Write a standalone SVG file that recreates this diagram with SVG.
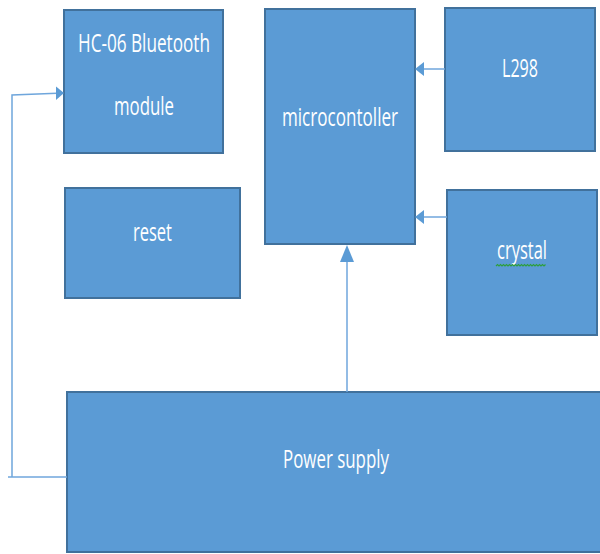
<svg xmlns="http://www.w3.org/2000/svg" width="600" height="554" viewBox="0 0 600 554">
<style>
.box{fill:#5B9BD5;stroke:#41719C;stroke-width:2}
.lbl{font-family:"Open Sans","Liberation Sans",sans-serif;font-size:26px;fill:#FFFFFF}
.con{fill:none;stroke:#6FA6DC;stroke-width:1.5}
.ah{fill:#5B9BD5}
</style>
<rect width="600" height="554" fill="#FFFFFF"/>
<g id="hc06">
<rect class="box" x="64" y="10" width="159" height="143"/>
<text class="lbl" x="78" y="52" textLength="132" lengthAdjust="spacingAndGlyphs">HC-06 Bluetooth</text>
<text class="lbl" x="114" y="115" textLength="60" lengthAdjust="spacingAndGlyphs">module</text>
</g>
<g id="microcontroller">
<rect class="box" x="265" y="9" width="150" height="235"/>
<text class="lbl" x="282" y="126" textLength="116" lengthAdjust="spacingAndGlyphs">microcontoller</text>
</g>
<g id="l298">
<rect class="box" x="445" y="8" width="150" height="143"/>
<text class="lbl" x="502" y="77" textLength="36" lengthAdjust="spacingAndGlyphs">L298</text>
</g>
<g id="reset">
<rect class="box" x="65" y="188" width="175" height="110"/>
<text class="lbl" x="133" y="241" textLength="39" lengthAdjust="spacingAndGlyphs">reset</text>
</g>
<g id="crystal">
<rect class="box" x="447" y="190" width="150" height="145"/>
<text class="lbl" x="497" y="259" textLength="50" lengthAdjust="spacingAndGlyphs">crystal</text>
<path d="M496 266 l1.5 -1.5 l1.5 1.5 l1.5 -1.5 l1.5 1.5 l1.5 -1.5 l1.5 1.5 l1.5 -1.5 l1.5 1.5 l1.5 -1.5 l1.5 1.5 l1.5 -1.5 l1.5 1.5 l1.5 -1.5 l1.5 1.5 l1.5 -1.5 l1.5 1.5 l1.5 -1.5 l1.5 1.5 l1.5 -1.5 l1.5 1.5 l1.5 -1.5 l1.5 1.5 l1.5 -1.5 l1.5 1.5 l1.5 -1.5 l1.5 1.5 l1.5 -1.5 l1.5 1.5 l1.5 -1.5 l1.5 1.5 l1.5 -1.5 l1.5 1.5 l1.5 -1.5" fill="none" stroke="#2E9E3E" stroke-width="1.2"/>
</g>
<g id="power">
<rect class="box" x="67" y="392" width="535" height="160"/>
<text class="lbl" x="283" y="468" textLength="106" lengthAdjust="spacingAndGlyphs">Power supply</text>
</g>
<g id="connectors">
<polyline class="con" points="67,477 8,477"/>
<polyline class="con" points="12,477 12,95 57,93.3"/>
<polygon class="ah" points="64,93 56,86.5 56,100"/>
<line class="con" x1="445" y1="69" x2="423" y2="69"/>
<polygon class="ah" points="415,69 424,62 424,76"/>
<line class="con" x1="447" y1="217" x2="423" y2="217"/>
<polygon class="ah" points="415,217 424,210 424,224"/>
<line class="con" x1="347" y1="392" x2="347" y2="254"/>
<polygon class="ah" points="347,245 340,262 354,262"/>
</g>
</svg>
